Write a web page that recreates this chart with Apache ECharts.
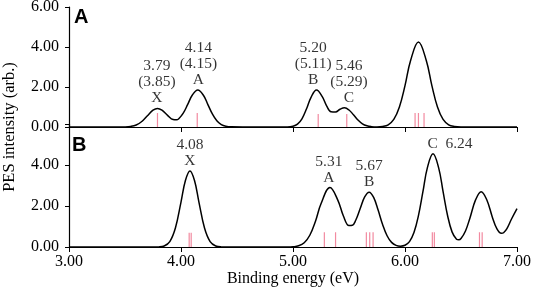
<!DOCTYPE html>
<html>
<head>
<meta charset="utf-8">
<script src="https://cdn.jsdelivr.net/npm/echarts@6/dist/echarts.min.js"></script>
<style>
  html, body { margin: 0; padding: 0; background: #fff; }
  #chart { width: 533px; height: 288px; }
</style>
</head>
<body>
<div id="chart"></div>
<script>
// panel A spectrum, [binding energy, intensity]
const curveA = [
  [3.00, 0], [3.40, 0], [3.50, 0.005], [3.55, 0.027], [3.60, 0.10], [3.65, 0.277],
  [3.70, 0.564], [3.75, 0.842], [3.79, 0.93], [3.83, 0.845], [3.88, 0.584],
  [3.93, 0.371], [3.96, 0.357], [3.98, 0.41], [4.02, 0.69], [4.06, 1.13],
  [4.10, 1.586], [4.15, 1.85], [4.20, 1.586], [4.24, 1.122], [4.28, 0.653],
  [4.32, 0.311], [4.36, 0.122], [4.40, 0.039], [4.45, 0.007], [4.55, 0],
  [4.95, 0], [5.00, 0.036], [5.04, 0.141], [5.08, 0.41], [5.12, 0.896],
  [5.16, 1.473], [5.21, 1.853], [5.26, 1.533], [5.30, 1.058], [5.34, 0.76],
  [5.38, 0.751], [5.42, 0.886], [5.46, 0.957], [5.50, 0.85], [5.54, 0.61],
  [5.58, 0.35], [5.62, 0.162], [5.66, 0.06], [5.70, 0.018], [5.75, 0.003],
  [5.80, 0.025], [5.85, 0.111], [5.90, 0.378], [5.95, 1.002], [6.00, 2.069],
  [6.05, 3.327], [6.12, 4.25], [6.19, 3.327], [6.24, 2.069], [6.29, 1.002],
  [6.34, 0.378], [6.39, 0.111], [6.44, 0.025], [6.50, 0], [7.00, 0]
];

// panel B spectrum
const curveB = [
  [3.00, 0], [3.75, 0], [3.80, 0.006], [3.85, 0.048], [3.90, 0.259], [3.95, 0.925],
  [4.00, 2.193], [4.04, 3.253], [4.08, 3.71], [4.12, 3.253], [4.16, 2.193],
  [4.21, 0.925], [4.26, 0.259], [4.31, 0.048], [4.36, 0.006], [4.45, 0],
  [4.95, 0], [5.00, 0.012], [5.05, 0.057], [5.10, 0.206], [5.15, 0.574],
  [5.20, 1.246], [5.25, 2.106], [5.33, 2.9], [5.40, 2.29], [5.45, 1.514],
  [5.50, 1.045], [5.53, 1.058], [5.56, 1.303], [5.60, 1.876], [5.64, 2.443],
  [5.68, 2.676], [5.72, 2.419], [5.76, 1.8], [5.80, 1.097], [5.84, 0.55],
  [5.88, 0.226], [5.92, 0.08], [5.96, 0.041], [6.00, 0.085], [6.04, 0.264],
  [6.08, 0.704], [6.12, 1.528], [6.16, 2.697], [6.20, 3.872], [6.25, 4.55],
  [6.30, 3.872], [6.34, 2.70], [6.38, 1.536], [6.42, 0.738], [6.46, 0.383],
  [6.48, 0.354], [6.50, 0.414], [6.54, 0.782], [6.58, 1.419], [6.63, 2.298],
  [6.68, 2.70], [6.73, 2.306], [6.78, 1.457], [6.82, 0.892], [6.86, 0.665],
  [6.88, 0.695], [6.91, 0.899], [6.95, 1.352], [7.00, 1.87]
];

// calculated transition sticks (pink)
const sticksA = [[3.79, 0.7], [4.145, 0.7], [5.225, 0.65], [5.48, 0.65], [6.09, 0.7], [6.12, 0.7], [6.17, 0.7]];
const sticksB = [[4.073, 0.7], [4.091, 0.7], [5.28, 0.72], [5.38, 0.72], [5.655, 0.72], [5.685, 0.72],
  [5.715, 0.72], [6.244, 0.72], [6.262, 0.72], [6.665, 0.72], [6.689, 0.72]];

// peak annotations: [energy, intensity, text]
const labelsA = [
  [3.785, 0.93, '3.79\n(3.85)\nX'],
  [4.155, 1.85, '4.14\n(4.15)\nA'],
  [5.18, 1.85, '5.20\n(5.11)\nB'],
  [5.50, 0.95, '5.46\n(5.29)\nC']
];
const labelsB = [
  [4.08, 3.71, '4.08\nX'],
  [5.32, 2.9, '5.31\nA'],
  [5.68, 2.68, '5.67\nB'],
  [6.25, 4.55, 'C  6.24']
];

const xTicks = [3, 4, 5, 6, 7];
const yTicks = [0, 2, 4, 6];

const serif = 'Liberation Serif';
const chart = echarts.init(document.getElementById('chart'));

const xAxisBase = (gi, showLabels) => ({
  type: 'value', gridIndex: gi, min: xTicks[0], max: xTicks[xTicks.length - 1], interval: 1,
  axisLine: { onZero: false, lineStyle: { color: '#000', width: 1.2 } },
  axisTick: { show: true, inside: false, length: 5, lineStyle: { color: '#000' } },
  axisLabel: { show: showLabels, margin: 7, color: '#000', fontFamily: serif, fontSize: 16,
    formatter: v => v.toFixed(2) },
  splitLine: { show: false }
});

const yAxisBase = (gi, hideMax) => ({
  type: 'value', gridIndex: gi, min: yTicks[0], max: yTicks[yTicks.length - 1], interval: 2,
  axisLine: { show: true, lineStyle: { color: '#000', width: 1.2 } },
  axisTick: { show: true, length: 4, lineStyle: { color: '#000' } },
  axisLabel: { margin: 10, color: '#000', fontFamily: serif, fontSize: 16,
    formatter: v => (hideMax && v === 6) ? '' : v.toFixed(2) },
  splitLine: { show: false }
});

const lineSeries = (data, gi) => ({
  type: 'line', xAxisIndex: gi, yAxisIndex: gi, data: data, smooth: 0.4,
  showSymbol: false, lineStyle: { color: '#000', width: 1.5 }, z: 3, silent: true
});

const stickSeries = (data, gi) => ({
  type: 'bar', xAxisIndex: gi, yAxisIndex: gi, data: data, barWidth: 1.2,
  itemStyle: { color: '#f28aa0' }, z: 2, silent: true
});

const labelSeries = (data, gi, offsets) => ({
  type: 'scatter', xAxisIndex: gi, yAxisIndex: gi, symbolSize: 0, silent: true, z: 4,
  data: data.map((d, i) => ({
    value: [d[0], d[1]],
    label: {
      show: true, position: 'top', distance: 2, offset: offsets ? offsets[i] : [0, 0],
      formatter: d[2], color: '#000', fontFamily: serif, fontSize: 15.5, lineHeight: 16
    }
  }))
});

chart.setOption({
  animation: false,
  grid: [
    { left: 69, right: 16, top: 7, height: 120, outerBoundsMode: 'none' },
    { left: 69, right: 16, top: 124, height: 123, outerBoundsMode: 'none' }
  ],
  xAxis: [
    xAxisBase(0, false),
    Object.assign(xAxisBase(1, true), {
      name: 'Binding energy (eV)', nameLocation: 'middle', nameGap: 22,
      nameTextStyle: { color: '#000', fontFamily: serif, fontSize: 16 }
    })
  ],
  yAxis: [yAxisBase(0, false), yAxisBase(1, true)],
  graphic: [
    { type: 'text', left: 74, top: 7, style: { text: 'A', font: 'bold 20px "Liberation Sans"', fill: '#000' } },
    { type: 'text', left: 72, top: 135, style: { text: 'B', font: 'bold 20px "Liberation Sans"', fill: '#000' } },
    { type: 'text', x: 10, y: 127, rotation: Math.PI / 2,
      style: { text: 'PES intensity (arb.)', font: '16.5px "Liberation Serif"', fill: '#000',
        align: 'center', verticalAlign: 'middle' } }
  ],
  series: [
    stickSeries(sticksA, 0),
    lineSeries(curveA, 0),
    labelSeries(labelsA, 0),
    stickSeries(sticksB, 1),
    lineSeries(curveB, 1),
    labelSeries(labelsB, 1, [[0, 0], [0, 0], [0, 0], [17, 0]])
  ]
});
</script>
</body>
</html>
